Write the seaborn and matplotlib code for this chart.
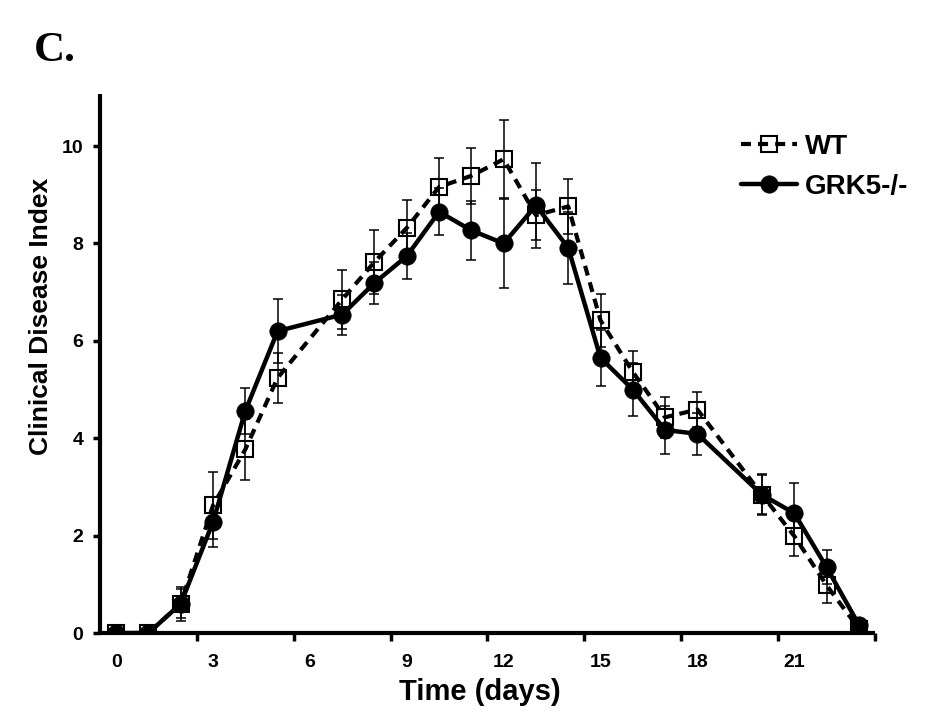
import matplotlib
matplotlib.use("Agg")
import matplotlib.pyplot as plt
import seaborn as sns
import numpy as np
import pandas as pd

# ---- data ----
days = [0, 1, 2, 3, 4, 5, 7, 8, 9, 10, 11, 12, 13, 14, 15, 16, 17, 18, 20, 21, 22, 23]
wt_mean = [0, 0, 0.60, 2.62, 3.77, 5.24, 6.85, 7.62, 8.32, 9.16, 9.39, 9.73,
           8.58, 8.76, 6.42, 5.36, 4.43, 4.59, 2.84, 1.99, 0.98, 0.09]
wt_err = [0, 0, 0.35, 0.69, 0.62, 0.52, 0.61, 0.65, 0.57, 0.60, 0.58, 0.80,
          0.51, 0.56, 0.54, 0.43, 0.42, 0.35, 0.40, 0.40, 0.37, 0.05]
grk_mean = [0, 0, 0.60, 2.28, 4.56, 6.20, 6.54, 7.19, 7.74, 8.65, 8.27, 8.00,
            8.78, 7.91, 5.65, 5.00, 4.17, 4.09, 2.84, 2.46, 1.35, 0.17]
grk_err = [0, 0, 0.30, 0.52, 0.47, 0.65, 0.41, 0.43, 0.47, 0.48, 0.60, 0.92,
           0.87, 0.74, 0.57, 0.54, 0.50, 0.43, 0.42, 0.63, 0.35, 0.08]
xtick_vals = [0, 3, 6, 9, 12, 15, 18, 21]
ytick_vals = [0, 2, 4, 6, 8, 10]
series_names = ["WT", "GRK5-/-"]

df = pd.DataFrame({"day": days, "WT": wt_mean, "WT_err": wt_err,
                   "GRK": grk_mean, "GRK_err": grk_err})

sns.set_theme(style="white")
plt.rcParams["font.family"] = ["Liberation Sans", "DejaVu Sans"]
plt.rcParams["font.weight"] = "bold"
plt.rcParams["text.color"] = "black"
plt.rcParams["axes.labelcolor"] = "black"
plt.rcParams["xtick.color"] = "black"
plt.rcParams["ytick.color"] = "black"

W, H = 927, 723
fig = plt.figure(figsize=(W / 100, H / 100), dpi=100)
ax = fig.add_axes([100 / W, 1 - 633 / H, (875 - 100) / W, (633 - 93.5) / H])

# WT: dashed line, hollow squares
ax.errorbar(df["day"], df["WT"], yerr=df["WT_err"], fmt="none", ecolor="black",
            elinewidth=1.1, capsize=3.3, capthick=1.1, zorder=2)
sns.lineplot(data=df, x="day", y="WT", ax=ax, color="black", lw=3.0,
             marker="s", markersize=11, markerfacecolor="none",
             markeredgecolor="black", markeredgewidth=1.5,
             label=series_names[0], errorbar=None, sort=False, zorder=3)
ax.lines[-1].set_dashes([2.4, 1.7])

# GRK5-/-: solid line, filled circles
ax.errorbar(df["day"], df["GRK"], yerr=df["GRK_err"], fmt="none", ecolor="black",
            elinewidth=1.1, capsize=3.3, capthick=1.1, zorder=4)
sns.lineplot(data=df, x="day", y="GRK", ax=ax, color="black", lw=3.2,
             marker="o", markersize=12.5, markerfacecolor="black",
             markeredgecolor="black", markeredgewidth=0.5,
             label=series_names[1], errorbar=None, sort=False, zorder=5)

ax.set_xlim(-0.5, 23.5)
ax.set_ylim(0, 11.08)

# axes styling
for s in ["top", "right"]:
    ax.spines[s].set_visible(False)
for s in ["left", "bottom"]:
    ax.spines[s].set_linewidth(3.0)
    ax.spines[s].set_color("black")
    ax.spines[s].set_capstyle("butt")

ax.set_xticks(xtick_vals)
ax.set_xticklabels([str(v) for v in xtick_vals])
ax.set_xticks([v - 0.5 for v in xtick_vals[1:]] + [23.5], minor=True)
ax.tick_params(axis="x", which="major", length=0, pad=15, labelsize=14,
               labelcolor="black")
ax.tick_params(axis="x", which="minor", length=6, width=2.5, color="black",
               direction="out", bottom=True)
ax.set_yticks(ytick_vals)
ax.set_yticklabels([str(v) for v in ytick_vals])
ax.tick_params(axis="y", which="major", length=5, width=2.5, color="black",
               pad=7, labelsize=14, labelcolor="black", left=True)

ax.set_xlabel("Time (days)", fontsize=21, fontweight="bold", color="black")
ax.set_ylabel("Clinical Disease Index", fontsize=19, fontweight="bold", color="black")
ax.xaxis.set_label_coords(0.49, -0.083)
ax.yaxis.set_label_coords(-0.06, 0.586)

leg = ax.legend(loc="upper left", bbox_to_anchor=(741 / W, 1 - 134 / H),
                bbox_transform=fig.transFigure, frameon=False, fontsize=20,
                handlelength=2.0, handletextpad=0.3, labelspacing=0.5,
                borderpad=0, borderaxespad=0)
for t in leg.get_texts():
    t.set_fontweight("bold")
    t.set_color("black")

fig.text(34 / W, 1 - 61 / H, "C.", fontsize=31, fontweight="bold",
         family=["Liberation Serif", "DejaVu Serif"], va="baseline", ha="left",
         color="black")

fig.savefig("out.png", dpi=100, facecolor="white")
